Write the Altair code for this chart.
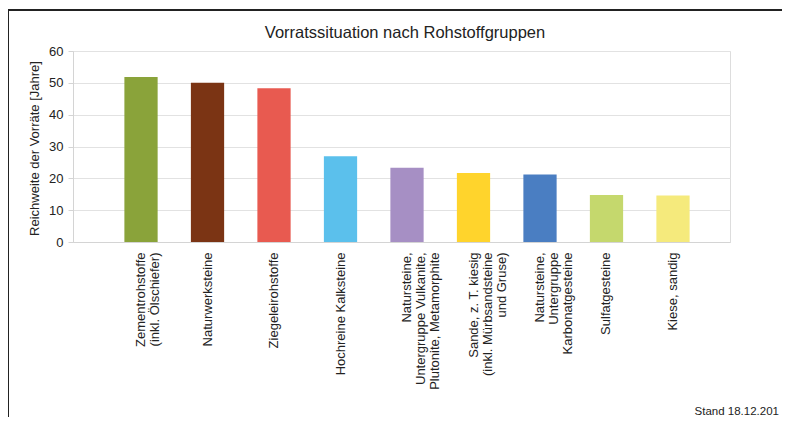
import altair as alt
import pandas as pd

categories = [
    "Zementrohstoffe\n(inkl. Ölschiefer)",
    "Naturwerksteine",
    "Ziegeleirohstoffe",
    "Hochreine Kalksteine",
    "Natursteine,\nUntergruppe Vulkanite,\nPlutonite, Metamorphite",
    "Sande, z. T. kiesig\n(inkl. Mürbsandsteine\nund Gruse)",
    "Natursteine,\nUntergruppe\nKarbonatgesteine",
    "Sulfatgesteine",
    "Kiese, sandig",
]
values = [51.8, 50.0, 48.3, 26.9, 23.3, 21.7, 21.2, 14.8, 14.6]
colors = ["#8aa33a", "#7b3414", "#e85a50", "#5bc0ec", "#a68fc4",
          "#ffd42c", "#4a7ec2", "#c5d86d", "#f5ea7c"]
y_ticks = [0, 10, 20, 30, 40, 50, 60]
chart_title = "Vorratssituation nach Rohstoffgruppen"
y_title = "Reichweite der Vorräte [Jahre]"
stand_text = "Stand 18.12.201"

df = pd.DataFrame({"cat": categories, "val": values})
FONT = "Liberation Sans"

bars = alt.Chart(df).mark_bar().encode(
    x=alt.X("cat:N", sort=categories, title=None,
            scale=alt.Scale(paddingInner=0.5, paddingOuter=0.69, align=0.56),
            axis=alt.Axis(labelAngle=270, labelExpr="split(datum.label, '\\n')",
                          labelFont=FONT, labelFontSize=13, labelColor="#222",
                          labelLineHeight=14, labelPadding=10, ticks=False,
                          domainColor="#d4d4d4", labelAlign="right",
                          labelBaseline="middle")),
    y=alt.Y("val:Q", title=y_title,
            scale=alt.Scale(domain=[0, 60], nice=False),
            axis=alt.Axis(values=y_ticks, grid=True, gridColor="#e2e2e2",
                          domainColor="#d4d4d4", tickColor="#d4d4d4", tickSize=5,
                          labelFont=FONT, labelFontSize=13, labelColor="#222",
                          labelPadding=5,
                          titleFont=FONT, titleFontSize=13, titleFontWeight="normal",
                          titleColor="#222", titleX=-39, titleY=97,
                          titleAngle=270, titleAlign="center", titleBaseline="middle")),
    color=alt.Color("cat:N", scale=alt.Scale(domain=categories, range=colors), legend=None),
)

title_mark = alt.Chart(pd.DataFrame({"t": [chart_title]})).mark_text(
    font=FONT, fontSize=16.5, color="#222", align="center", baseline="alphabetic"
).encode(text="t:N", x=alt.value(332), y=alt.value(-13))

stand_mark = alt.Chart(pd.DataFrame({"t": [stand_text]})).mark_text(
    font=FONT, fontSize=11.5, color="#222", align="right", baseline="alphabetic"
).encode(text="t:N", x=alt.value(706), y=alt.value(364))

border_df = pd.DataFrame({"k": [0]})
top_rule = alt.Chart(border_df).mark_rule(color="#222", strokeWidth=2).encode(
    x=alt.value(-65), x2=alt.value(720), y=alt.value(-41))
left_rule = alt.Chart(border_df).mark_rule(color="#222", strokeWidth=2).encode(
    x=alt.value(-65), y=alt.value(-42), y2=alt.value(380))

chart = alt.layer(bars, title_mark, stand_mark, top_rule, left_rule).properties(
    width=657, height=191,
    autosize=alt.AutoSizeParams(type="none"),
    padding={"left": 65, "top": 43, "right": 52, "bottom": 175},
).configure_view(stroke=None).configure(background="white")

chart.save("out.html", embed_options={"renderer": "svg", "actions": False})
